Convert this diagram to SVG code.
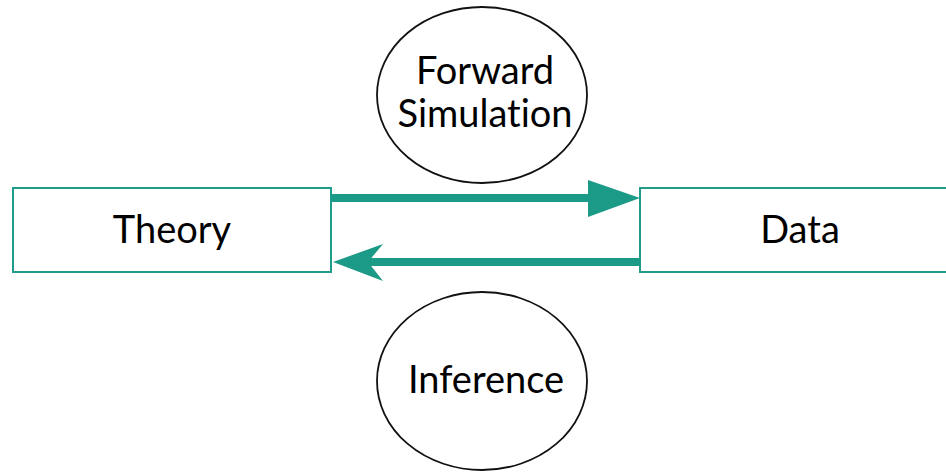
<svg xmlns="http://www.w3.org/2000/svg" width="946" height="472" viewBox="0 0 946 472">
  <style>
    .box { fill: #ffffff; stroke: #1f9d8a; stroke-width: 2; }
    .oval { fill: #ffffff; stroke: #111111; stroke-width: 1.8; }
    .label { font-family: Lato, "Noto Sans", sans-serif; font-size: 38px; fill: #000000; text-anchor: middle; font-variant-ligatures: none; }
    .wire { stroke: #1b9a87; stroke-width: 8; fill: none; }
    .head { fill: #1b9a87; }
  </style>
  <rect width="946" height="472" fill="#ffffff"/>

  <g id="forward-simulation">
    <ellipse class="oval" cx="482" cy="95" rx="105" ry="88"/>
    <text class="label" x="485" y="84">Forward</text>
    <text class="label" x="485" y="127">Simulation</text>
  </g>

  <g id="inference">
    <ellipse class="oval" cx="482" cy="381" rx="105" ry="89"/>
    <text class="label" x="486" y="393">Inference</text>
  </g>

  <g id="theory">
    <rect class="box" x="13" y="188" width="318" height="84"/>
    <text class="label" x="172" y="243">Theory</text>
  </g>

  <g id="data">
    <rect class="box" x="640" y="188" width="310" height="84"/>
    <text class="label" x="800" y="243">Data</text>
  </g>

  <g id="connectors">
    <!-- Theory to Data -->
    <line class="wire" x1="331" y1="198" x2="592" y2="198"/>
    <polygon class="head" points="640,198 588,180 588,217"/>
    <!-- Data to Theory -->
    <line class="wire" x1="640" y1="262" x2="366" y2="262"/>
    <polygon class="head" points="333,262 383,244 368,262 383,281"/>
  </g>
</svg>
